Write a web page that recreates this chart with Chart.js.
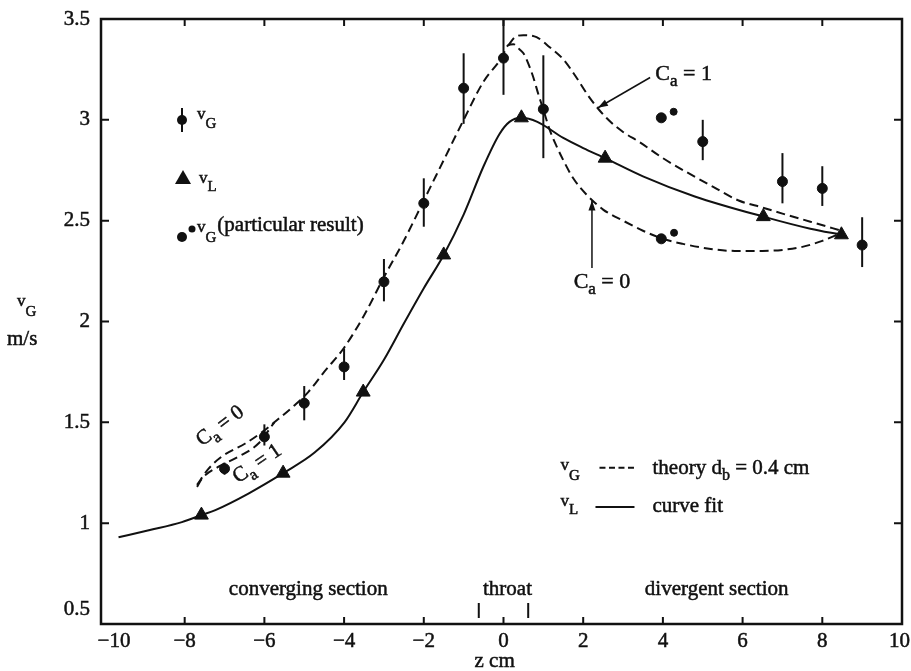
<!DOCTYPE html>
<html>
<head>
<meta charset="utf-8">
<script src="https://cdn.jsdelivr.net/npm/chart.js@4.4.1/dist/chart.umd.min.js"></script>
<style>
  body { margin: 0; background: #fff; }
  #wrap { width: 911px; height: 671px; }
</style>
</head>
<body>
<div id="wrap"><canvas id="venturi" width="911" height="671"></canvas></div>
<script>
// axis ranges and tick labels
var xTicks = [-10, -8, -6, -4, -2, 0, 2, 4, 6, 8, 10];
var xTickLabels = ['\u221210', '\u22128', '\u22126', '\u22124', '\u22122', '0', '2', '4', '6', '8', '10'];
var yTicks = [0.5, 1, 1.5, 2, 2.5, 3, 3.5];
var yTickLabels = ['0.5', '1', '1.5', '2', '2.5', '3', '3.5'];

// measured gas velocity v_G (m/s) with error bar limits
var gasZ    = [-7, -6, -5, -4, -3, -2, -1, 0, 1, 5, 7, 8, 9];
var gasV    = [1.27, 1.428, 1.595, 1.775, 2.197, 2.586, 3.157, 3.306, 3.053, 2.892, 2.694, 2.66, 2.379];
var gasLow  = [1.24, 1.385, 1.51, 1.71, 2.10, 2.47, 2.98, 3.124, 2.81, 2.80, 2.586, 2.573, 2.27];
var gasHigh = [1.30, 1.49, 1.68, 1.866, 2.31, 2.71, 3.33, 3.5, 3.32, 3.0, 2.835, 2.77, 2.517];

// particular result: big dot + small companion dot
var partZ = [3.96, 3.96];
var partV = [3.01, 2.41];
var partMarkZ = [4.27, 4.28];
var partMarkV = [3.04, 2.44];

// measured liquid velocity v_L
var liqZ = [-7.58, -5.53, -3.52, -1.5, 0.45, 2.55, 6.52, 8.48];
var liqV = [1.04, 1.248, 1.65, 2.33, 3.01, 2.81, 2.52, 2.43];

// curve fit through v_L
var fitZ = [-9.66, -8.9, -8.07, -7.58, -7.23, -6.4, -5.53, -4.74, -3.99, -3.52, -3.0, -2.5, -2.0, -1.5,
            -1.0, -0.5, -0.1, 0.15, 0.45, 0.85, 1.5, 2.0, 2.55, 3.5, 4.8, 6.52, 7.7, 8.48];
var fitV = [0.93, 0.965, 1.005, 1.04, 1.065, 1.147, 1.248, 1.35, 1.5, 1.65, 1.81, 1.99, 2.165, 2.33,
            2.53, 2.77, 2.93, 2.99, 3.01, 2.99, 2.91, 2.86, 2.81, 2.72, 2.62, 2.52, 2.46, 2.43];

// theory, d_b = 0.4 cm: converging branches, common rise, then the two tails
var ca0HeadZ = [-7.69, -7.4, -7.07, -6.48, -6.0];
var ca0HeadV = [1.19, 1.27, 1.33, 1.395, 1.46];
var ca1HeadZ = [-7.69, -7.57, -7.15, -6.65, -6.15];
var ca1HeadV = [1.18, 1.22, 1.28, 1.33, 1.395];
var riseZ = [-5.75, -5.24, -4.9, -4.5, -4.0, -3.5, -3.0, -2.5, -2.0, -1.5, -1.0, -0.5, -0.04, 0.12];
var riseV = [1.5, 1.585, 1.65, 1.75, 1.87, 2.03, 2.22, 2.40, 2.60, 2.80, 3.0, 3.19, 3.31, 3.37];
var ca0TailZ = [0.25, 0.4, 0.5, 0.62, 0.75, 0.87, 1.0, 1.16, 1.33, 1.5, 1.75, 2.08, 2.5, 3.0, 3.5,
                4.0, 4.5, 5.2, 5.8, 6.5, 7.0, 7.5, 8.0, 8.48];
var ca0TailV = [3.375, 3.35, 3.33, 3.28, 3.21, 3.13, 3.05, 2.95, 2.87, 2.80, 2.71, 2.63, 2.555, 2.50, 2.45,
                2.41, 2.385, 2.36, 2.35, 2.35, 2.355, 2.37, 2.40, 2.44];
var ca1TailZ = [0.12, 0.29, 0.5, 0.83, 1.16, 1.5, 1.83, 2.16, 2.58, 3.0, 3.41, 4.0, 4.6, 5.24, 5.9,
                6.5, 7.0, 7.7, 8.48];
var ca1TailV = [3.37, 3.41, 3.42, 3.41, 3.36, 3.30, 3.21, 3.11, 3.01, 2.94, 2.89, 2.81, 2.74, 2.67, 2.60,
                2.565, 2.535, 2.495, 2.45];

// throat limits marked on the z axis
var throatZ = [-0.62, 0.62];

var SERIF = '"Liberation Serif", "DejaVu Serif", serif';
var INK = '#111';

function pts(zs, vs) {
  return zs.map(function (z, i) { return { x: z, y: vs[i] }; });
}

// draws a run of [text, size, drop] pieces left to right, returns its width
function runs(ctx, x, y, parts, draw) {
  var cx = x;
  parts.forEach(function (p) {
    ctx.font = p[1] + 'px ' + SERIF;
    if (draw) {
      ctx.fillText(p[0], cx, y + (p[2] || 0));
      ctx.strokeText(p[0], cx, y + (p[2] || 0));
    }
    cx += ctx.measureText(p[0]).width;
  });
  return cx - x;
}

function arrow(ctx, x0, y0, x1, y1) {
  var a = Math.atan2(y1 - y0, x1 - x0);
  ctx.beginPath();
  ctx.moveTo(x0, y0);
  ctx.lineTo(x1, y1);
  ctx.stroke();
  ctx.beginPath();
  ctx.moveTo(x1, y1);
  ctx.lineTo(x1 - 10 * Math.cos(a) + 3.5 * Math.sin(a), y1 - 10 * Math.sin(a) - 3.5 * Math.cos(a));
  ctx.lineTo(x1 - 10 * Math.cos(a) - 3.5 * Math.sin(a), y1 - 10 * Math.sin(a) + 3.5 * Math.cos(a));
  ctx.closePath();
  ctx.fill();
}

var errorBars = {
  id: 'errorBars',
  beforeDatasetsDraw: function (chart) {
    var ctx = chart.ctx, xs = chart.scales.x, ys = chart.scales.y;
    ctx.save();
    ctx.strokeStyle = INK;
    ctx.lineWidth = 2;
    gasZ.forEach(function (z, i) {
      var px = xs.getPixelForValue(z);
      ctx.beginPath();
      ctx.moveTo(px, ys.getPixelForValue(gasLow[i]));
      ctx.lineTo(px, ys.getPixelForValue(gasHigh[i]));
      ctx.stroke();
    });
    ctx.restore();
  }
};

var frame = {
  id: 'frame',
  afterDatasetsDraw: function (chart) {
    var ctx = chart.ctx, a = chart.chartArea, xs = chart.scales.x, ys = chart.scales.y;
    ctx.save();
    ctx.strokeStyle = INK;
    ctx.fillStyle = INK;
    ctx.lineWidth = 2.5;
    ctx.strokeRect(a.left, a.top, a.right - a.left, a.bottom - a.top);

    // inward ticks on all four sides
    ctx.lineWidth = 2;
    ctx.beginPath();
    xTicks.forEach(function (v) {
      if (v <= xTicks[0] || v >= xTicks[xTicks.length - 1]) return;
      var px = xs.getPixelForValue(v);
      ctx.moveTo(px, a.bottom); ctx.lineTo(px, a.bottom - 7);
      ctx.moveTo(px, a.top); ctx.lineTo(px, a.top + 7);
    });
    yTicks.forEach(function (v) {
      if (v <= yTicks[0] || v >= yTicks[yTicks.length - 1]) return;
      var py = ys.getPixelForValue(v);
      ctx.moveTo(a.left, py); ctx.lineTo(a.left + 8, py);
      ctx.moveTo(a.right, py); ctx.lineTo(a.right - 8, py);
    });
    throatZ.forEach(function (z) {
      var px = xs.getPixelForValue(z);
      ctx.moveTo(px, a.bottom - 6); ctx.lineTo(px, a.bottom - 21);
    });
    ctx.stroke();

    // tick labels
    ctx.lineWidth = 0.5;
    ctx.font = '21px ' + SERIF;
    ctx.textAlign = 'center';
    ctx.textBaseline = 'middle';
    xTicks.forEach(function (v, i) {
      var px = xs.getPixelForValue(v);
      var w = ctx.measureText(xTickLabels[i]).width;
      if (i === 0) px += 9;
      px = Math.min(px, chart.width - w / 2 - 1);
      ctx.fillText(xTickLabels[i], px, a.bottom + 17);
      ctx.strokeText(xTickLabels[i], px, a.bottom + 17);
    });
    ctx.textAlign = 'right';
    yTicks.forEach(function (v, i) {
      var py = ys.getPixelForValue(v);
      if (i === 0) py -= 15;
      ctx.fillText(yTickLabels[i], a.left - 11, py);
      ctx.strokeText(yTickLabels[i], a.left - 11, py);
    });

    // axis titles
    ctx.textBaseline = 'alphabetic';
    ctx.textAlign = 'left';
    runs(ctx, 17, 306, [['v', 17, 0], ['G', 15, 10]], true);
    runs(ctx, 7, 345, [['m/s', 21, 0]], true);
    runs(ctx, xs.getPixelForValue(-0.2) - 21, 667, [['z cm', 21, 0]], true);

    // section names along the bottom
    ctx.textAlign = 'center';
    [['converging section', -4.9], ['throat', 0.1], ['divergent section', 5.35]].forEach(function (s) {
      ctx.font = '21px ' + SERIF;
      ctx.fillText(s[0], xs.getPixelForValue(s[1]), a.bottom - 29);
      ctx.strokeText(s[0], xs.getPixelForValue(s[1]), a.bottom - 29);
    });
    ctx.restore();
  }
};

var notes = {
  id: 'notes',
  afterDatasetsDraw: function (chart) {
    var ctx = chart.ctx, a = chart.chartArea, xs = chart.scales.x, ys = chart.scales.y;
    function X(z) { return xs.getPixelForValue(z); }
    function Y(v) { return ys.getPixelForValue(v); }
    ctx.save();
    ctx.fillStyle = INK;
    ctx.strokeStyle = INK;
    ctx.textAlign = 'left';
    ctx.textBaseline = 'alphabetic';

    // C_a labels with arrows, divergent side
    ctx.lineWidth = 1.5;
    arrow(ctx, X(3.68), Y(3.21), X(2.37), Y(3.06));
    arrow(ctx, X(2.22), Y(2.265), X(2.22), Y(2.60));
    ctx.lineWidth = 0.5;
    runs(ctx, X(3.81), Y(3.198), [['C', 22, 0], ['a', 17, 6], [' = 1', 22, 0]], true);
    runs(ctx, X(1.76), Y(2.166), [['C', 22, 0], ['a', 17, 6], [' = 0', 22, 0]], true);

    // rotated C_a labels on the converging branches
    [[-7.13, 1.487, -37, '0'], [-6.2, 1.30, -34, '1']].forEach(function (r) {
      var parts = [['C', 21, 0], ['a', 16, 6], [' = ' + r[3], 21, 0]];
      ctx.save();
      ctx.translate(X(r[0]), Y(r[1]));
      ctx.rotate(r[2] * Math.PI / 180);
      var w = runs(ctx, 0, 0, parts, false);
      runs(ctx, -w / 2, 7, parts, true);
      ctx.restore();
    });

    // symbol key, upper left
    var kx = a.left + 81;
    ctx.lineWidth = 2;
    ctx.beginPath();
    ctx.moveTo(kx, a.top + 89); ctx.lineTo(kx, a.top + 113);
    ctx.stroke();
    ctx.beginPath(); ctx.arc(kx, a.top + 101, 5, 0, Math.PI * 2); ctx.fill();
    ctx.beginPath();
    ctx.moveTo(kx + 1, a.top + 151);
    ctx.lineTo(kx + 9, a.top + 165);
    ctx.lineTo(kx - 7, a.top + 165);
    ctx.closePath(); ctx.fill();
    ctx.beginPath(); ctx.arc(kx, a.top + 218, 5, 0, Math.PI * 2); ctx.fill();
    ctx.beginPath(); ctx.arc(kx + 10, a.top + 210, 3.5, 0, Math.PI * 2); ctx.fill();

    ctx.lineWidth = 0.5;
    runs(ctx, kx + 15, a.top + 100, [['v', 17, 0], ['G', 15, 9]], true);
    runs(ctx, kx + 17, a.top + 164, [['v', 17, 0], ['L', 15, 8]], true);
    var w = runs(ctx, kx + 15, a.top + 213, [['v', 17, 0], ['G', 15, 10]], true);
    runs(ctx, kx + 15 + w + 1, a.top + 212, [['(particular result)', 21, 0]], true);

    // line key, lower right
    var lx = X(1.43);
    runs(ctx, lx, Y(1.265), [['v', 17, 0], ['G', 15, 10]], true);
    runs(ctx, lx + 92, Y(1.245), [['theory d', 21, 0], ['b', 16, 6], [' = 0.4 cm', 21, 0]], true);
    runs(ctx, lx, Y(1.085), [['v', 17, 0], ['L', 15, 8]], true);
    runs(ctx, lx + 92, Y(1.055), [['curve fit', 21, 0]], true);
    ctx.lineWidth = 2;
    ctx.setLineDash([6, 3.5]);
    ctx.beginPath();
    ctx.moveTo(lx + 39, Y(1.275)); ctx.lineTo(lx + 74, Y(1.275));
    ctx.stroke();
    ctx.setLineDash([]);
    ctx.beginPath();
    ctx.moveTo(lx + 35, Y(1.08)); ctx.lineTo(lx + 74, Y(1.08));
    ctx.stroke();
    ctx.restore();
  }
};

var lineBase = {
  showLine: true,
  borderColor: INK,
  borderWidth: 2,
  pointRadius: 0,
  cubicInterpolationMode: 'monotone',
  fill: false
};
function line(data, dashed) {
  return Object.assign({}, lineBase, { data: data, borderDash: dashed ? [9, 5] : [] });
}

var ca0Curve = pts(ca0HeadZ, ca0HeadV).concat(pts(riseZ, riseV), pts(ca0TailZ, ca0TailV));
var ca1Head = pts(ca1HeadZ, ca1HeadV).concat([{ x: riseZ[0], y: riseV[0] }]);

new Chart(document.getElementById('venturi'), {
  type: 'scatter',
  data: {
    datasets: [
      line(pts(fitZ, fitV), false),
      line(ca0Curve, true),
      line(ca1Head, true),
      line(pts(ca1TailZ, ca1TailV), true),
      {
        data: pts(liqZ, liqV), pointStyle: 'triangle', pointRadius: 8,
        backgroundColor: INK, borderColor: INK, borderWidth: 1
      },
      {
        data: pts(gasZ, gasV), pointStyle: 'circle', pointRadius: 5,
        backgroundColor: INK, borderColor: INK, borderWidth: 1
      },
      {
        data: pts(partZ, partV), pointStyle: 'circle', pointRadius: 5,
        backgroundColor: INK, borderColor: INK, borderWidth: 1
      },
      {
        data: pts(partMarkZ, partMarkV), pointStyle: 'circle', pointRadius: 3.5,
        backgroundColor: INK, borderColor: INK, borderWidth: 1
      }
    ]
  },
  options: {
    responsive: false,
    animation: false,
    events: [],
    layout: { padding: { left: 101, right: 5, top: 19, bottom: 47 } },
    scales: {
      x: { type: 'linear', min: -10.1, max: 10, display: false },
      y: { type: 'linear', min: 0.5, max: 3.5, display: false }
    },
    plugins: {
      legend: { display: false },
      tooltip: { enabled: false }
    }
  },
  plugins: [errorBars, frame, notes]
});
</script>
</body>
</html>
